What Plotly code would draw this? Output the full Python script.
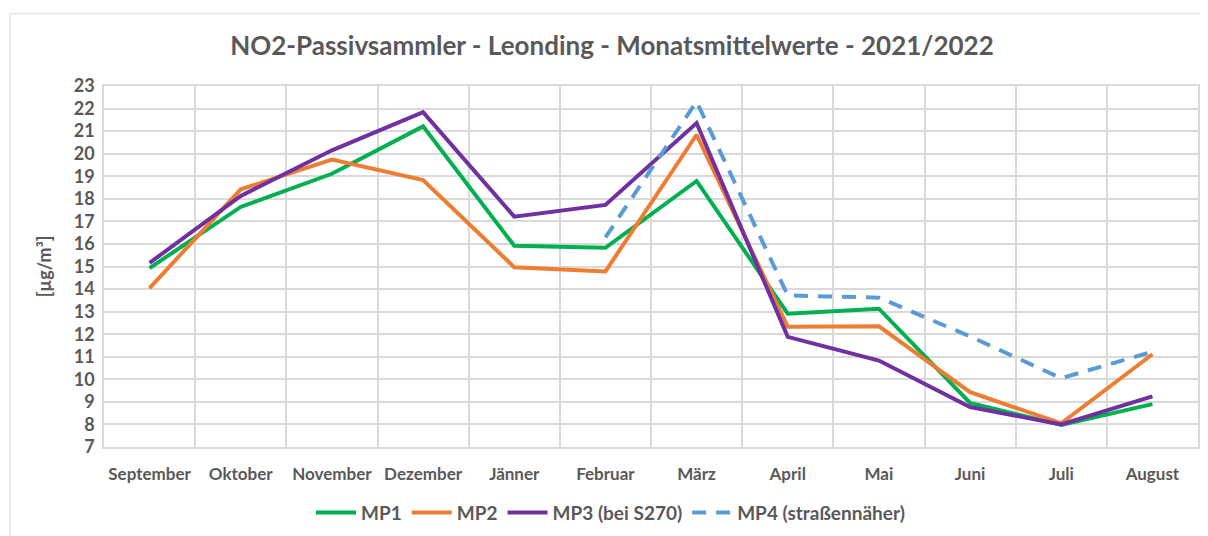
import plotly.graph_objects as go

months = ["September", "Oktober", "November", "Dezember", "Jänner", "Februar",
          "März", "April", "Mai", "Juni", "Juli", "August"]
mp1 = [14.93, 17.64, 19.11, 21.21, 15.92, 15.83, 18.79, 12.91, 13.13, 8.95, 7.98, 8.90]
mp2 = [14.04, 18.42, 19.74, 18.83, 14.97, 14.78, 20.84, 12.33, 12.35, 9.43, 8.05, 11.11]
mp3 = [15.16, 18.13, 20.15, 21.84, 17.21, 17.73, 21.36, 11.88, 10.83, 8.77, 8.00, 9.24]
mp4 = [None, None, None, None, None, 16.29, 22.31, 13.72, 13.62, 11.90, 10.05, 11.22]

series = [
    ("MP1", mp1, "#00b050", "solid"),
    ("MP2", mp2, "#ed7d31", "solid"),
    ("MP3 (bei S270)", mp3, "#7030a0", "solid"),
    ("MP4 (straßennäher)", mp4, "#5b9bd5", "14px,10px"),
]

fig = go.Figure()
for name, vals, color, dash in series:
    fig.add_trace(go.Scatter(x=months, y=vals, name=name, mode="lines",
                             line=dict(color=color, width=4, dash=dash),
                             connectgaps=False))

font_family = "Lato, 'Open Sans', sans-serif"
gray = "#595959"
grid = "#d9d9d9"

fig.update_layout(
    width=1208, height=536,
    paper_bgcolor="white", plot_bgcolor="white",
    margin=dict(l=96, r=18, t=78, b=95),
    title=dict(text="NO2-Passivsammler - Leonding - Monatsmittelwerte - 2021/2022",
               x=0.5, xanchor="center", y=0.93, yanchor="middle",
               font=dict(family=font_family, size=26, color=gray, weight="bold")),
    font=dict(family=font_family, color=gray),
    showlegend=True,
    legend=dict(orientation="h", x=0.463, xanchor="center", y=-0.182, yanchor="middle",
                font=dict(family=font_family, size=19, color=gray, weight="bold"),
                itemwidth=40, traceorder="normal"),
    xaxis=dict(type="category", range=[-0.5, 11.5], tickson="boundaries",
               showgrid=True, gridcolor=grid, gridwidth=1.5,
               showline=True, linecolor=grid, linewidth=1.5, mirror=True,
               ticks="", tickangle=0, tickfont=dict(size=17, color=gray, weight="bold"),
               ticklabelstandoff=11, zeroline=False, automargin=False),
    yaxis=dict(range=[7, 23], dtick=1, tick0=7,
               showgrid=True, gridcolor=grid, gridwidth=1.5,
               showline=True, linecolor=grid, linewidth=1.5, mirror=True,
               ticks="", tickfont=dict(size=18, color=gray, weight="bold"),
               ticklabelstandoff=4,
               title=dict(text="[µg/m³]", font=dict(size=18, color=gray, weight="bold"), standoff=17),
               zeroline=False, automargin=False),
    shapes=[dict(type="rect", xref="paper", yref="paper",
                 x0=-0.086, x1=1.03, y0=-0.5, y1=1.20,
                 line=dict(color="#d9d9d9", width=1), fillcolor="rgba(0,0,0,0)", layer="below")],
)

fig.write_html("out.html")
